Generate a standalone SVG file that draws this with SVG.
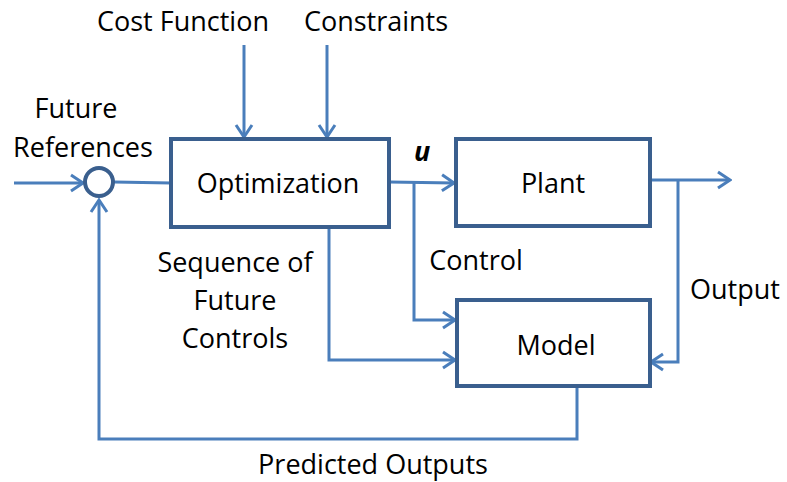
<svg xmlns="http://www.w3.org/2000/svg" width="787" height="482" viewBox="0 0 787 482">
<style>
.box{fill:#fff;stroke:#3A5F8E;stroke-width:4}
.ln{fill:none;stroke:#4A7EBB;stroke-width:3}
text{font-family:"Open Sans","Liberation Sans",Arial,sans-serif;font-size:27px;fill:#000}
.c{text-anchor:middle}
</style>
<defs>
<marker id="ah" viewBox="0 0 20 20" refX="18" refY="10" markerWidth="20" markerHeight="20" markerUnits="userSpaceOnUse" orient="auto">
<path d="M6,2 L18,10 L6,18" fill="none" stroke="#4A7EBB" stroke-width="3"/>
</marker>
</defs>
<g id="connectors">
<line class="ln" x1="14" y1="183" x2="83" y2="183" marker-end="url(#ah)"/>
<line class="ln" x1="114" y1="182" x2="171" y2="183"/>
<line class="ln" x1="244" y1="45" x2="244" y2="137" marker-end="url(#ah)"/>
<line class="ln" x1="327" y1="45" x2="327" y2="137" marker-end="url(#ah)"/>
<line class="ln" x1="389" y1="182" x2="454" y2="183" marker-end="url(#ah)"/>
<polyline class="ln" points="414,182 414,320 455,320" marker-end="url(#ah)"/>
<polyline class="ln" points="329,227 329,360 455,360" marker-end="url(#ah)"/>
<line class="ln" x1="651" y1="180" x2="730" y2="180" marker-end="url(#ah)"/>
<polyline class="ln" points="678,180 678,362 651,362" marker-end="url(#ah)"/>
<polyline class="ln" points="577,386 577,439 99,439 99,200" marker-end="url(#ah)"/>
</g>
<g id="sum"><circle cx="99" cy="182" r="14" fill="#fff" stroke="#3A5F8E" stroke-width="4"/></g>
<g id="optimization"><rect class="box" x="171" y="139" width="218" height="88"/><text class="c" x="278" y="193">Optimization</text></g>
<g id="plant"><rect class="box" x="456" y="139" width="194" height="87"/><text class="c" x="553" y="193">Plant</text></g>
<g id="model"><rect class="box" x="457" y="300" width="193" height="86"/><text class="c" x="556" y="355">Model</text></g>
<g id="labels">
<text class="c" x="183" y="31">Cost Function</text>
<text class="c" x="376" y="31">Constraints</text>
<text class="c" x="76" y="118">Future</text>
<text class="c" x="83" y="157">References</text>
<text x="414" y="161" style="font-style:italic;font-weight:bold" font-size="22">u</text>
<text class="c" x="235" y="272">Sequence of</text>
<text class="c" x="235" y="310">Future</text>
<text class="c" x="235" y="348">Controls</text>
<text class="c" x="476" y="270">Control</text>
<text class="c" x="735" y="299">Output</text>
<text class="c" x="373" y="474">Predicted Outputs</text>
</g>
</svg>
